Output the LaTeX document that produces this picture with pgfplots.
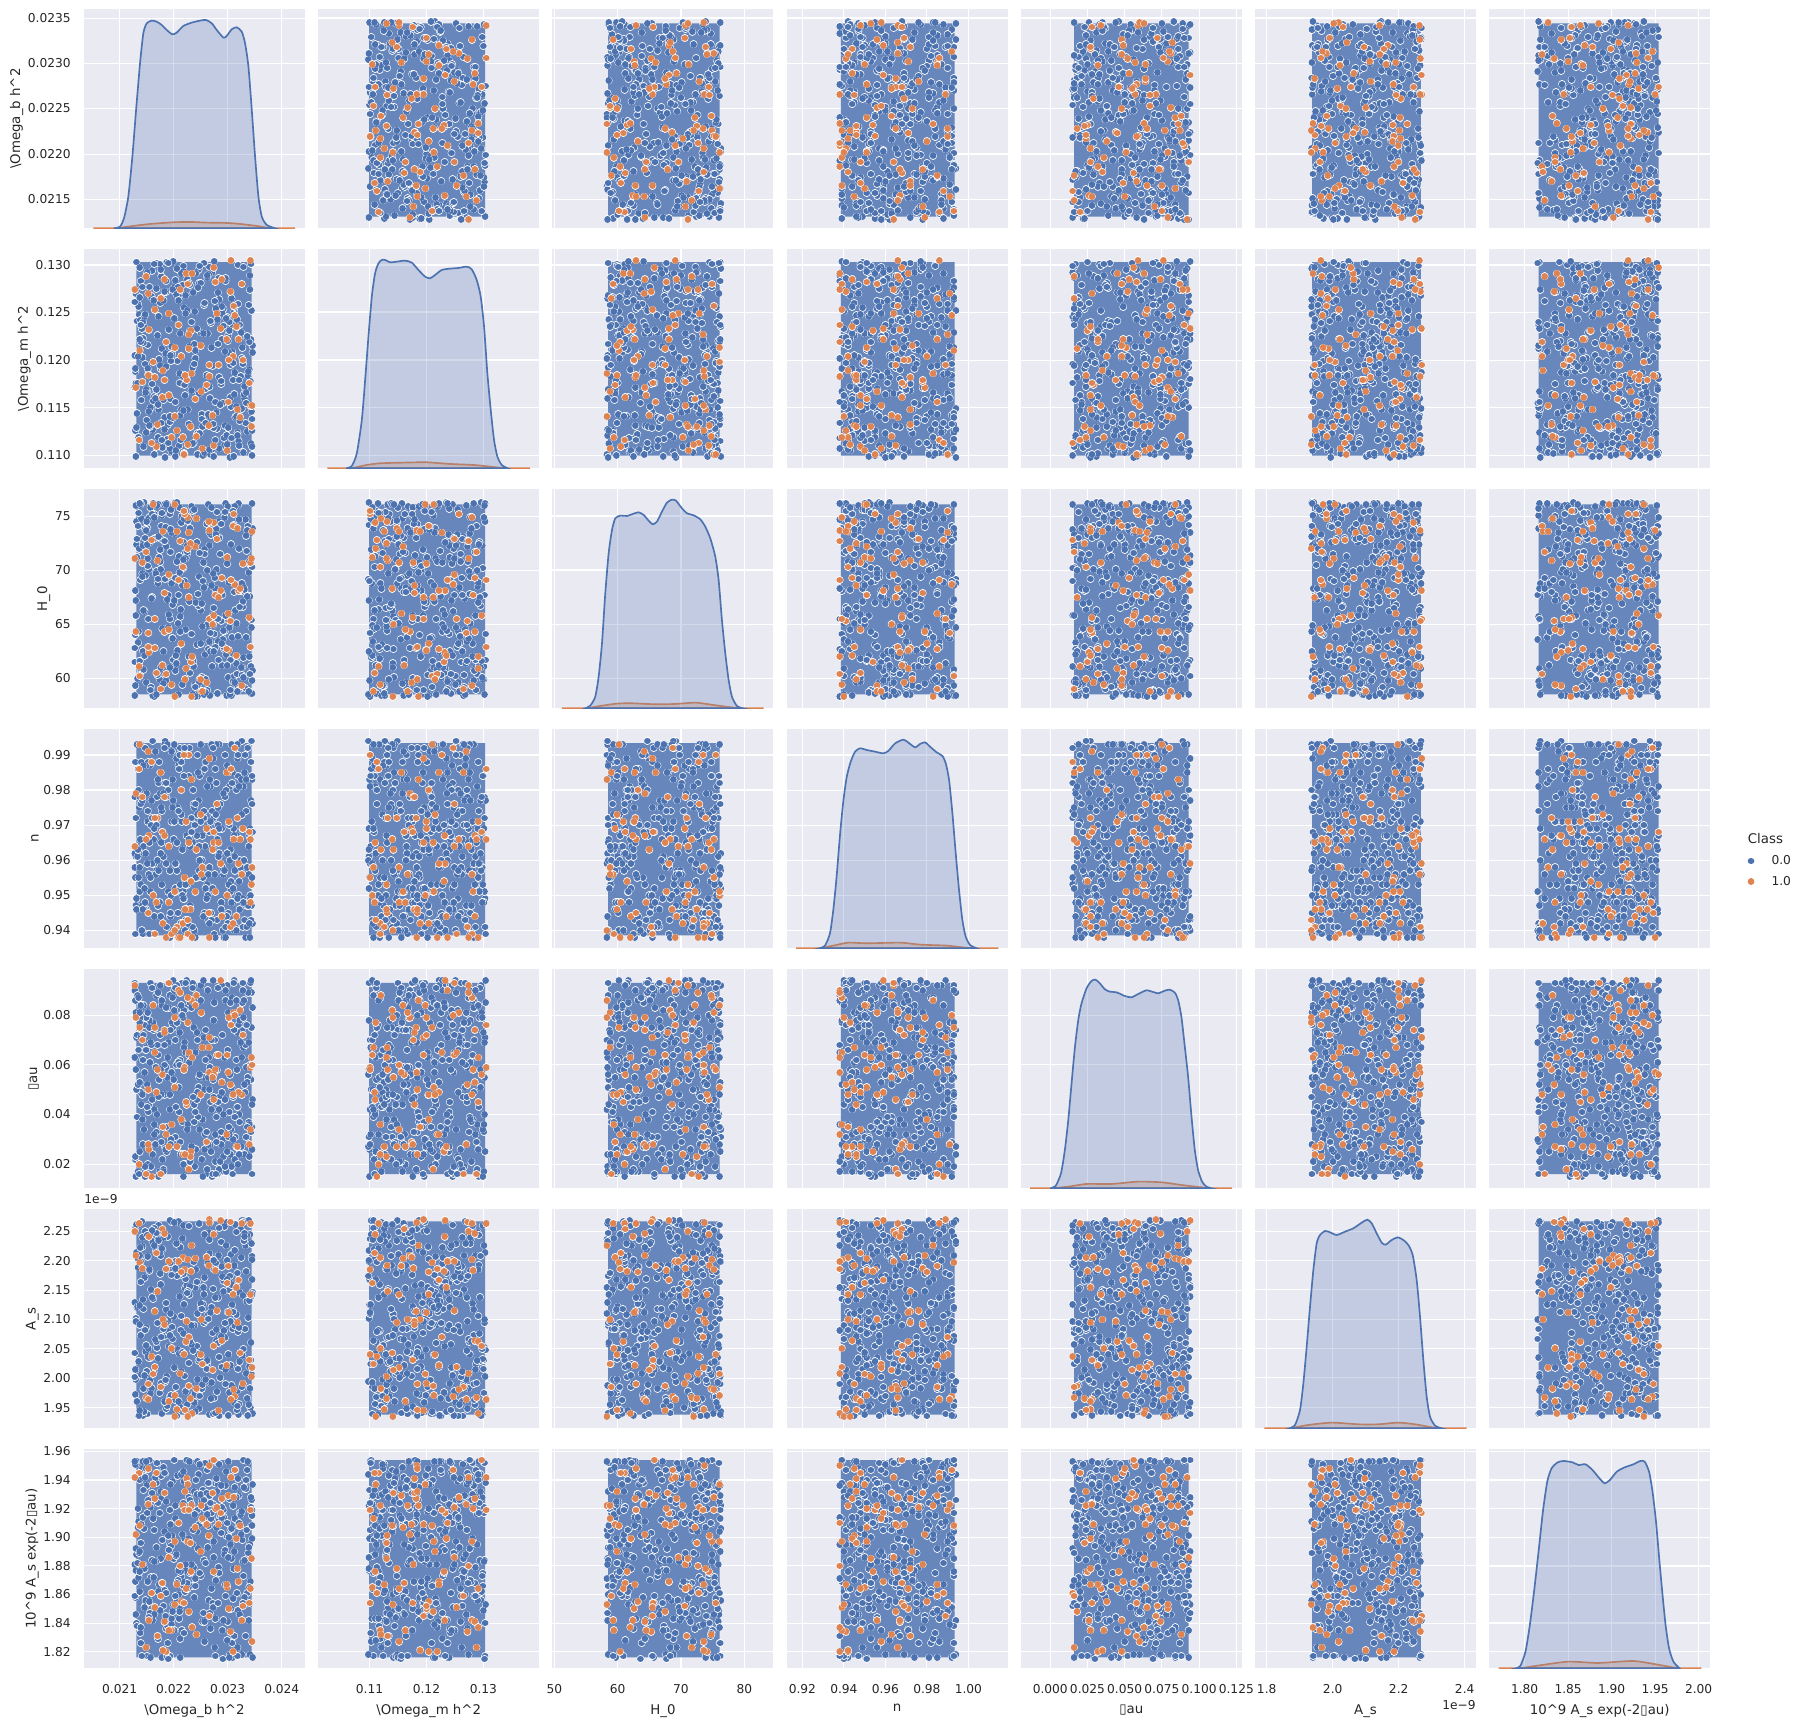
\documentclass[border=0pt]{standalone}
\usepackage{fontspec}
\setmainfont{DejaVu Sans}
\usepackage{pgfplots}
\usepackage{pgfplotstable}
\pgfplotsset{compat=1.18}
\definecolor{bg}{HTML}{EAEAF2}
\definecolor{sb}{HTML}{4C72B0}
\definecolor{so}{HTML}{DD8452}
\definecolor{txt}{HTML}{262626}

% columns in file units: A 1e-5, B 1e-4, C 0.1, D 1e-3, E 1e-3, F 1e-12, G 1e-3
% orange rows read off the A_s and last rows of the reference, matched between panels
\pgfplotstableread{
A B C D E F G
2266 1195 655 989 71 2270 1845
2287 1233 681 959 94 2269 1917
2305 1272 653 941 52 2266 1834
2266 1183 737 938 57 2265 1950
2326 1280 593 956 48 2264 1842
2136 1116 611 986 20 2264 1945
2342 1305 629 966 59 2263 1919
2179 1161 612 968 56 2254 1868
2128 1274 711 964 92 2250 1942
2183 1285 643 967 74 2246 1841
2274 1110 744 965 46 2245 1876
2154 1232 624 967 26 2241 1842
2233 1186 583 983 86 2226 1922
2168 1109 605 948 49 2213 1945
2130 1171 643 979 79 2209 1902
2261 1174 596 969 29 2206 1909
2217 1119 703 942 24 2205 1922
2240 1159 722 951 84 2204 1907
2226 1280 749 939 87 2202 1897
2209 1237 691 938 90 2199 1910
2191 1249 696 964 93 2199 1886
2137 1210 602 993 75 2197 1908
2265 1131 745 945 67 2192 1901
2301 1156 660 985 57 2191 1929
2142 1177 707 978 70 2187 1881
2186 1219 604 938 32 2186 1820
2220 1101 752 955 59 2185 1919
2277 1282 677 951 58 2184 1920
2232 1231 615 954 25 2182 1876
2214 1204 632 980 38 2181 1855
2320 1222 681 959 49 2167 1869
2299 1105 712 950 64 2162 1865
2316 1235 621 944 27 2155 1899
2170 1132 709 972 58 2148 1831
2310 1204 741 942 48 2143 1820
2342 1152 707 948 34 2142 1864
2280 1249 729 976 64 2115 1921
2165 1182 628 972 75 2114 1927
2302 1200 626 971 79 2112 1850
2180 1189 736 942 35 2100 1821
2251 1167 588 956 81 2100 1922
2224 1179 686 946 44 2097 1941
2318 1148 739 972 27 2095 1878
2183 1179 679 978 73 2091 1931
2228 1227 735 990 65 2070 1919
2289 1285 693 944 53 2064 1927
2223 1291 609 971 45 2062 1864
2274 1297 658 968 56 2055 1954
2196 1119 594 939 36 2051 1835
2323 1140 683 966 82 2043 1908
2219 1101 755 990 58 2041 1854
2159 1113 728 988 15 2037 1861
2340 1176 656 968 28 2031 1854
2253 1107 588 958 67 2024 1913
2298 1222 627 985 32 2022 1867
2165 1253 655 939 65 2019 1851
2345 1152 736 958 60 2018 1827
2272 1142 650 963 55 2014 1931
2212 1274 727 938 89 2008 1880
2162 1198 761 950 84 2007 1937
2344 1130 711 953 63 2003 1885
2328 1200 706 969 72 1991 1852
2153 1184 629 945 50 1990 1948
2228 1212 675 965 18 1987 1848
2176 1265 590 985 16 1985 1859
2242 1120 748 963 88 1982 1832
2311 1257 752 966 81 1981 1928
2202 1213 761 951 51 1971 1897
2313 1247 687 992 80 1969 1947
2149 1288 717 966 16 1967 1823
2231 1130 725 946 23 1965 1896
2153 1270 642 991 28 1964 1923
2306 1305 691 986 76 1964 1942
2191 1163 645 948 27 1961 1835
2206 1126 736 941 27 1947 1867
2221 1184 599 946 24 1946 1932
2283 1195 675 965 64 1945 1909
2234 1291 620 938 63 1940 1837
2202 1141 583 940 79 1935 1853
2226 1111 720 943 77 1935 1937
2250 1215 599 973 48 2040 1890
}\orange

% blue cloud: far too dense to read one by one, so positions are estimates that fill
% the same ranges; the paler rectangle in each panel stands for the covered middle
\pgfplotstableread{
A B C D E F G
2130 1099 672 961 58 2102 1877
2343 1301 611 977 33 2031 1921
2131 1303 745 949 71 2214 1840
2345 1100 598 983 26 2168 1899
2129 1188 640 955 86 1972 1858
2238 1217 585 940 44 2090 1932
2189 1132 761 993 63 2241 1826
2307 1265 584 993 19 1988 1885
2162 1157 762 939 77 2135 1913
2281 1243 586 966 16 2058 1952
2342 1178 705 950 93 1950 1869
2134 1259 633 986 17 2189 1907
2196 1104 688 971 93 2266 1843
2266 1298 723 958 16 1938 1928
2212 1142 657 992 29 2264 1816
2301 1226 601 945 81 1937 1953
2151 1167 739 939 52 1939 1817
2329 1103 619 981 67 2268 1954
2247 1281 694 957 38 2263 1952
2178 1212 751 974 84 1940 1816
2132 1241 712 963 39 2121 1953
2344 1146 654 947 75 2007 1817
2129 1126 593 988 22 2255 1951
2341 1274 676 969 60 1983 1818
2346 1215 739 942 46 2147 1816
2128 1171 628 978 90 2043 1953
2256 1302 585 972 55 2094 1884
2203 1099 763 952 31 2199 1922
2319 1300 760 984 73 2016 1849
2164 1101 583 959 42 2237 1905
2275 1304 641 939 85 1967 1938
2221 1163 716 940 20 2153 1862
2139 1283 608 993 49 2073 1896
2333 1134 747 938 68 2226 1831
2184 1098 692 994 27 1994 1944
2250 1229 663 993 92 2118 1873
2293 1118 627 938 17 2081 1914
2147 1196 738 992 15 2250 1852
2312 1251 602 940 94 1959 1890
2215 1175 750 971 93 2176 1835
2262 1287 589 953 16 2024 1947
2128 1205 584 962 63 2129 1881
2345 1138 762 976 35 2208 1919
2130 1270 760 947 81 1998 1846
2343 1112 586 988 54 2061 1908
2235 1192 585 965 93 1941 1866
2172 1246 761 982 15 2261 1925
2298 1121 584 944 17 2265 1901
2206 1296 763 957 92 1936 1856
2326 1149 688 994 74 2268 1818
2143 1223 625 939 28 1937 1953
2284 1264 731 993 47 1936 1951
2193 1107 655 938 88 2269 1817
2224 1180 714 967 94 2158 1954
2309 1237 597 985 16 2084 1816
2157 1150 758 951 93 2035 1816
2271 1292 611 974 15 2193 1953
2339 1187 698 956 37 2269 1842
2135 1256 643 980 66 1936 1911
2131 1129 724 946 50 2262 1888
2346 1208 607 968 83 1940 1937
2244 1101 583 990 70 2110 1953
2187 1303 762 941 25 2003 1817
2304 1098 585 960 56 2174 1818
2169 1302 760 978 40 2052 1952
2229 1214 671 992 61 2142 1953
2291 1155 636 940 30 2067 1815
2155 1277 749 939 78 2183 1954
2318 1124 593 993 43 1979 1817
2129 1191 681 939 23 2015 1869
2344 1252 647 994 89 2229 1926
2132 1144 729 993 72 1961 1838
2341 1289 604 938 36 2245 1895
2254 1100 690 955 15 2126 1933
2199 1304 617 977 94 2048 1853
2311 1099 742 969 93 2217 1878
2174 1301 599 948 17 1975 1917
2267 1160 584 983 59 2264 1847
2145 1235 763 962 34 1943 1906
2320 1115 762 950 76 1938 1929
2209 1268 585 987 51 2267 1860
2130 1176 658 972 15 2097 1892
2343 1222 735 943 94 2139 1928
2128 1261 615 958 93 2002 1859
2345 1109 703 984 16 2202 1915
2240 1202 583 938 65 2155 1871
2183 1140 761 993 48 2072 1904
2296 1283 762 938 86 1990 1936
2161 1127 584 994 24 2233 1842
2328 1197 666 941 93 2266 1883
2136 1248 720 975 16 1937 1889
2273 1105 649 989 94 1939 1923
2218 1299 702 953 15 2260 1866
2149 1169 596 946 79 2086 1953
2303 1240 757 981 41 2163 1816
2258 1102 622 964 32 2024 1952
2190 1302 677 951 69 2100 1815
2337 1184 741 992 55 1937 1953
2141 1233 609 940 84 2267 1817
2277 1156 683 938 21 1941 1817
2201 1276 734 993 90 2265 1954
2200 1200 670 966 54 2105 1885
2243 1122 631 955 46 2055 1930
2175 1260 708 979 72 2178 1864
2288 1175 653 948 28 2232 1903
2156 1130 726 987 61 1996 1847
2322 1237 590 960 37 2146 1917
2214 1148 744 973 80 2011 1873
2137 1211 616 951 25 2091 1940
2265 1290 685 969 63 2248 1856
2193 1135 752 944 42 1969 1895
2308 1209 638 982 87 2125 1826
2168 1275 699 957 33 2062 1938
2237 1113 611 976 75 2198 1879
2284 1182 730 962 18 2036 1912
2146 1247 662 946 57 2171 1851
2332 1165 591 990 49 2084 1934
2225 1285 717 953 83 1955 1868
2179 1108 646 968 22 2219 1898
2300 1220 759 942 66 2113 1841
2252 1143 601 985 38 1982 1925
2160 1294 675 959 91 2138 1884
2336 1125 737 947 53 2243 1861
2207 1199 626 975 27 2049 1943
2276 1262 693 956 70 2190 1823
2140 1158 748 988 44 2006 1909
2230 1231 605 964 85 2156 1875
2314 1140 663 941 31 2262 1947
2186 1272 722 978 59 1948 1836
2259 1170 587 952 74 2098 1920
2152 1216 711 971 20 2207 1857
2295 1131 644 990 46 2069 1891
2219 1255 756 949 82 2181 1939
2340 1190 620 967 36 2020 1865
2171 1119 688 983 64 2236 1829
2269 1239 733 945 25 1965 1913
2133 1176 600 961 88 2122 1882
2246 1295 667 977 51 2030 1944
2306 1151 724 954 34 2211 1850
2197 1206 637 991 77 2087 1901
2280 1128 754 943 58 1977 1932
2158 1266 592 970 19 2151 1872
2324 1183 681 958 69 2254 1916
2210 1110 713 986 41 2042 1843
2263 1228 650 950 90 2195 1893
2177 1288 741 965 29 1992 1927
2316 1141 614 980 62 2108 1860
2142 1203 697 947 48 2224 1948
2233 1168 759 972 83 2058 1881
2292 1254 629 956 23 2166 1919
2188 1117 673 993 55 1953 1838
2335 1224 718 941 76 2131 1905
2216 1279 594 963 37 2238 1869
2150 1137 745 979 67 2012 1936
2272 1194 658 952 16 2077 1854
2299 1245 706 987 92 2201 1910
2204 1105 621 959 43 1985 1887
2256 1258 684 974 71 2143 1926
2164 1162 752 944 32 2256 1846
2327 1213 610 969 85 2039 1898
2241 1291 670 955 26 2185 1940
2183 1127 727 982 60 1960 1863
2310 1179 597 948 47 2115 1922
2138 1242 691 966 79 2222 1833
2279 1107 739 993 39 2064 1907
2222 1268 645 943 93 2169 1877
2286 1153 715 976 21 2001 1915
2170 1226 603 960 68 2094 1945
2331 1160 680 985 52 2247 1858
2195 1199 756 950 30 1971 1894
2250 1281 632 971 86 2127 1930
2154 1146 701 956 44 2035 1844
2318 1235 588 989 73 2179 1911
2213 1116 664 942 24 2082 1876
2266 1172 735 968 56 2212 1938
2137 1297 616 978 81 1945 1862
2302 1208 689 953 35 2150 1900
2228 1133 748 984 65 2026 1928
2181 1263 625 961 18 2240 1852
2338 1188 707 947 89 2103 1889
2244 1123 593 973 49 1998 1919
2290 1249 677 958 72 2173 1835
2166 1160 730 991 28 2066 1942
2208 1277 651 945 61 2229 1870
2321 1110 720 981 40 1956 1908
2144 1218 608 964 84 2118 1881
2261 1184 743 949 33 2016 1931
2198 1139 668 975 75 2192 1848
2313 1256 596 957 22 2089 1913
2173 1201 712 988 54 2251 1867
2235 1112 755 941 91 1968 1895
2282 1271 634 970 45 2137 1937
2148 1166 695 962 66 2045 1856
2325 1229 610 983 27 2205 1902
2218 1293 726 951 79 2076 1924
2253 1130 648 967 38 1989 1841
2176 1191 701 944 57 2160 1885
2297 1244 622 980 17 2226 1946
2135 1119 753 955 87 2029 1872
2270 1213 686 993 42 2121 1917
2203 1284 607 959 70 1963 1859
2334 1155 732 974 31 2182 1934
2191 1232 659 948 83 2054 1891
2257 1103 719 986 50 2245 1827
2305 1195 589 963 24 2097 1905
2159 1267 674 977 68 1983 1929
2226 1148 746 942 36 2148 1864
2289 1222 612 969 92 2019 1921
2167 1170 697 956 59 2216 1883
2319 1259 639 990 20 2079 1941
2211 1176 758 952 73 1952 1850
2274 1129 665 972 47 2186 1897
2143 1240 723 946 62 2134 1914
2248 1299 599 984 34 2033 1875
2330 1164 684 960 86 2234 1935
2185 1207 740 979 26 1997 1845
2264 1142 627 943 55 2109 1908
2206 1273 708 965 77 2174 1868
2153 1185 655 988 41 2051 1926
2294 1110 749 957 63 2258 1888
2239 1251 594 970 19 1974 1916
2328 1196 671 949 90 2141 1854
2177 1134 729 975 48 2070 1943
2283 1286 617 961 32 2209 1879
2220 1174 690 992 69 2004 1899
2139 1219 761 953 84 2164 1837
2268 1101 642 981 28 2112 1924
2317 1243 604 967 58 1946 1861
2194 1159 717 944 74 2196 1909
2245 1276 678 985 39 2041 1892
2212 1228 643 953 62 2223 1829
2279 1145 701 982 29 2083 1941
2163 1263 729 966 74 2011 1872
2307 1118 618 948 51 2159 1906
2238 1196 756 975 37 1959 1858
2186 1283 598 959 83 2117 1925
2331 1172 682 943 24 2241 1884
2149 1124 737 987 66 2056 1948
2268 1241 625 971 45 1991 1836
2203 1156 693 951 91 2187 1913
2295 1209 754 978 19 2094 1867
2176 1295 610 962 58 2208 1932
2322 1136 666 946 78 2028 1846
2225 1252 723 990 34 2145 1897
2157 1183 589 955 69 1974 1921
2284 1107 745 969 42 2256 1875
2198 1274 637 983 87 2067 1939
2340 1219 708 942 23 2132 1853
2247 1165 596 964 55 1948 1909
2139 1237 762 976 71 2199 1826
2301 1129 654 950 31 2041 1886
2214 1291 689 988 84 2106 1944
2172 1148 731 957 47 2234 1862
2326 1202 603 973 63 1985 1918
2257 1260 715 945 26 2171 1841
2190 1113 647 980 93 2079 1901
2313 1187 759 961 39 2218 1935
2146 1246 621 952 76 2005 1878
2273 1133 697 992 54 2152 1851
2230 1279 739 947 21 2063 1926
2168 1169 585 970 88 2247 1893
2336 1225 676 958 35 1966 1947
2219 1102 748 984 67 2126 1833
2289 1256 632 944 49 2190 1914
2152 1191 704 974 81 2037 1869
2264 1143 761 956 28 2101 1938
2205 1269 614 989 60 2229 1888
2318 1121 683 949 43 1953 1823
2243 1233 726 967 73 2164 1904
2181 1158 595 979 17 2084 1949
2296 1286 658 941 90 2015 1859
2134 1204 741 963 52 2203 1920
2277 1116 629 986 32 2137 1843
2222 1249 711 953 65 1978 1881
2160 1175 752 972 46 2252 1931
2329 1298 601 948 79 2050 1873
2252 1138 669 960 22 2118 1912
2196 1214 735 991 57 2176 1839
2305 1161 617 951 85 2022 1895
2142 1277 694 977 38 2240 1942
2270 1105 758 943 70 1993 1864
2233 1240 641 968 27 2090 1923
2175 1194 719 985 92 2214 1849
2345 1126 586 955 44 2143 1908
2209 1263 677 974 61 1961 1877
2288 1178 743 946 33 2071 1936
2155 1131 628 965 75 2185 1855
2262 1289 700 981 18 2030 1916
2137 1222 762 958 53 2124 1890
2316 1151 651 940 86 2249 1928
2240 1210 592 976 41 1943 1866
2183 1272 727 992 68 2097 1945
2299 1111 612 962 25 2168 1828
2216 1184 686 950 80 2044 1902
2164 1301 749 969 36 2226 1883
2334 1166 638 983 59 2008 1940
2255 1228 707 944 94 2155 1847
2193 1141 610 957 48 2073 1919
2278 1254 733 973 16 2196 1870
2144 1109 663 987 72 1982 1933
2310 1197 755 952 30 2113 1857
2228 1281 620 966 64 2259 1899
2171 1153 692 947 89 2034 1924
2292 1236 644 979 40 2148 1842
2248 1123 716 960 56 1970 1951
2137 1266 603 993 77 2209 1876
2321 1179 747 954 24 2086 1910
2201 1244 672 971 82 2018 1835
2266 1106 634 942 50 2236 1929
2186 1193 761 982 35 2128 1861
2339 1258 588 964 69 1955 1893
2218 1147 710 949 20 2178 1946
2282 1217 655 975 91 2060 1854
2151 1292 724 959 43 2244 1917
2259 1134 599 988 62 1998 1882
2194 1205 738 945 28 2110 1937
2312 1164 680 967 74 2192 1831
2236 1271 616 980 47 2047 1905
2178 1116 753 953 86 2221 1868
2303 1231 647 970 32 1976 1927
2211 1186 698 990 60 2139 1848
2147 1248 730 948 19 2082 1942
2274 1099 625 963 78 2201 1886
}\blue

% round-cap dots as one literal each: much lighter on TeX memory than mark=*
\makeatletter
\pgfdeclareplotmark{bdot}{\pgfsys@beginscope\pgflowlevelsynccm\pgfsys@invoke{1 J 1 1 1 RG 5.6 w 0 0 m .01 0 l S .298 .447 .69 RG 4.8 w 0 0 m .01 0 l S}\pgfsys@endscope}
\pgfdeclareplotmark{odot}{\pgfsys@beginscope\pgflowlevelsynccm\pgfsys@invoke{1 J 1 1 1 RG 5.6 w 0 0 m .01 0 l S .867 .518 .322 RG 4.8 w 0 0 m .01 0 l S}\pgfsys@endscope}
\makeatother

\pgfplotsset{
  base/.style={
    scale only axis, width=159.12pt, height=157.9pt, anchor=south west,
    axis background/.style={fill=bg},
    axis line style={draw=none}, tick style={draw=none}, major tick length=0pt,
    grid=major, grid style={white, line width=0.8pt},
    tick label style={font=\fontsize{8.8}{10.5}\selectfont, text=txt},
    label style={font=\fontsize{9.6}{11.5}\selectfont, text=txt},
    yticklabel style={inner xsep=9.4pt},
    xticklabel style={inner ysep=11.5pt},
    ylabel style={inner ysep=0pt},
    ylabel shift=-6.2pt,
    xlabel style={inner ysep=0pt},
    xlabel shift=-4pt,
    clip=true,
  },
  xvA/.style={xmin=2034,xmax=2443,xtick={2100,2200,2300,2400},xticklabels={0.021,0.022,0.023,0.024}},
  xvB/.style={xmin=1010,xmax=1398,xtick={1100,1200,1300},xticklabels={0.11,0.12,0.13}},
  xvC/.style={xmin=497,xmax=846,xtick={500,600,700,800},xticklabels={50,60,70,80}},
  xvD/.style={xmin=912.4,xmax=1018.9,xtick={920,940,960,980,1000},xticklabels={0.92,0.94,0.96,0.98,1.00}},
  xvE/.style={xmin=-19.8,xmax=128.7,xtick={0,25,50,75,100,125},xticklabels={0.000,0.025,0.050,0.075,0.100,0.125}},
  xvF/.style={xmin=1764.6,xmax=2434.3,xtick={1800,2000,2200,2400},xticklabels={1.8,2.0,2.2,2.4}},
  xvG/.style={xmin=1759.3,xmax=2013.3,xtick={1800,1850,1900,1950,2000},xticklabels={1.80,1.85,1.90,1.95,2.00}},
  yvA/.style={ymin=2118,ymax=2360,ytick={2150,2200,2250,2300,2350},yticklabels={0.0215,0.0220,0.0225,0.0230,0.0235}},
  yvB/.style={ymin=1086.3,ymax=1316.8,ytick={1100,1150,1200,1250,1300},yticklabels={0.110,0.115,0.120,0.125,0.130}},
  yvC/.style={ymin=572.2,ymax=775.3,ytick={600,650,700,750},yticklabels={60,65,70,75}},
  yvD/.style={ymin=934.9,ymax=997.4,ytick={940,950,960,970,980,990},yticklabels={0.94,0.95,0.96,0.97,0.98,0.99}},
  yvE/.style={ymin=10.3,ymax=98.6,ytick={20,40,60,80},yticklabels={0.02,0.04,0.06,0.08}},
  yvF/.style={ymin=1914.8,ymax=2288.1,ytick={1950,2000,2050,2100,2150,2200,2250},yticklabels={1.95,2.00,2.05,2.10,2.15,2.20,2.25}},
  yvG/.style={ymin=1808.4,ymax=1961.7,ytick={1820,1840,1860,1880,1900,1920,1940,1960},yticklabels={1.82,1.84,1.86,1.88,1.90,1.92,1.94,1.96}},
  dvA/.style={ymin=0,ymax=658,ytick={87,222,360,495,630},yticklabels={0.0215,0.0220,0.0225,0.0230,0.0235}},
  dvB/.style={ymin=0,ymax=658,ytick={39,183,325,469,610},yticklabels={}},
  dvC/.style={ymin=0,ymax=658,ytick={90,252,415,577},yticklabels={}},
  dvD/.style={ymin=0,ymax=658,ytick={54,159,264,369,474,580},yticklabels={}},
  dvE/.style={ymin=0,ymax=658,ytick={72,222,372,519},yticklabels={}},
  dvF/.style={ymin=0,ymax=658,ytick={62,152,240,327,417,504,591},yticklabels={}},
  dvG/.style={ymin=0,ymax=658,ytick={50,136,222,307,393,479,565,651},yticklabels={}},
  ylA/.style={ylabel={\textbackslash Omega\_b h\textasciicircum 2}},
  ylB/.style={ylabel={\textbackslash Omega\_m h\textasciicircum 2}},
  ylC/.style={ylabel={H\_0}},
  ylD/.style={ylabel={n}},
  ylE/.style={ylabel={▯au}},
  ylF/.style={ylabel={A\_s}},
  ylG/.style={ylabel={10\textasciicircum 9 A\_s exp(-2▯au)}},
  xlA/.style={xlabel={\textbackslash Omega\_b h\textasciicircum 2}},
  xlB/.style={xlabel={\textbackslash Omega\_m h\textasciicircum 2}},
  xlC/.style={xlabel={H\_0}},
  xlD/.style={xlabel={n}},
  xlE/.style={xlabel={▯au}},
  xlF/.style={xlabel={A\_s}},
  xlG/.style={xlabel={10\textasciicircum 9 A\_s exp(-2▯au)}},
  hx/.style={xticklabels={}},
  hy/.style={yticklabels={}},
  blue dots/.style={only marks,mark=bdot,forget plot},
  orange dots/.style={only marks,mark=odot,forget plot},
  ofstop/.style={extra description/.code={\node[anchor=south west,inner sep=0pt,font=\fontsize{8.8}{10.5}\selectfont,text=txt] at (axis description cs:0,1.025) {1e−9};}},
  ofsbot/.style={extra description/.code={\node[anchor=north east,inner sep=0pt,font=\fontsize{8.8}{10.5}\selectfont,text=txt] at (axis description cs:1,-0.146) {1e−9};}},
}
% panel column positions and row positions, pt
\def\cxA{60.48pt}\def\cxB{229.10pt}\def\cxC{397.73pt}\def\cxD{566.35pt}\def\cxE{734.98pt}\def\cxF{903.60pt}\def\cxG{1072.22pt}
\def\ryA{1074.74pt}\def\ryB{901.94pt}\def\ryC{729.14pt}\def\ryD{556.34pt}\def\ryE{383.54pt}\def\ryF{210.74pt}\def\ryG{37.94pt}
% inner rectangle of each cloud
\def\loA{2131}\def\hiA{2344}\def\loB{1099.5}\def\hiB{1303}\def\loC{585}\def\hiC{761}
\def\loD{938.6}\def\hiD{993.4}\def\loE{16}\def\hiE{93}\def\loF{1938}\def\hiF{2267}\def\loG{1816}\def\hiG{1954}

\newcommand{\panel}[4][]{%
  \begin{axis}[base,at={(\csname cx#2\endcsname,\csname ry#3\endcsname)},xv#2,yv#3,#4]
    \edef\xa{\csname lo#2\endcsname}\edef\xb{\csname hi#2\endcsname}%
    \edef\ya{\csname lo#3\endcsname}\edef\yb{\csname hi#3\endcsname}%
    \addplot[fill=sb!85!white,draw=none,forget plot] coordinates {(\xa,\ya) (\xb,\ya) (\xb,\yb) (\xa,\yb) (\xa,\ya)};
    \addplot[blue dots] table[x=#2,y=#3]{\blue};
    \addplot[orange dots] table[x=#2,y=#3]{\orange};
    #1
  \end{axis}}
% diagonal: #1 variable, #2 options, #3 orange density, #4 blue density
\newcommand{\diag}[4]{%
  \begin{axis}[base,at={(\csname cx#1\endcsname,\csname ry#1\endcsname)},xv#1,dv#1,#2]
    \addplot[so,fill=so,fill opacity=0.25,line width=1.2pt,smooth,tension=0.4,forget plot] coordinates {#3} \closedcycle;
    \addplot[sb,fill=sb,fill opacity=0.25,line width=1.2pt,smooth,tension=0.4,forget plot] coordinates {#4} \closedcycle;
  \end{axis}}

\begin{document}
\begin{tikzpicture}
\useasboundingbox (0,0) rectangle (1297.44pt,1239.12pt);
% density curves: x in column units, y = height above baseline (658 = panel top)
\diag{A}{hx,ylA}
{(2051.2,0)(2091.4,0)(2125.3,7)(2156.2,13)(2199.4,18)(2230.3,19)(2261.1,17)(2298.1,16)(2322.9,13)(2353.7,7)(2378.4,1)(2424.7,0)}
{(2089.5,0)(2100.6,5)(2108,30)(2116,95)(2123.5,215)(2130.9,365)(2137.7,495)(2143.8,585)(2150,615)(2159.3,623)(2168.5,620)(2177.8,610)(2187,595)(2197.5,582)(2205.6,587)(2217.9,607)(2233.3,617)(2248.8,623)(2259.9,625)(2270.4,615)(2279.6,595)(2292,572)(2298.1,577)(2307.4,597)(2316.7,603)(2325.9,590)(2332.1,555)(2338.3,485)(2344.5,355)(2350.6,215)(2356.8,95)(2363,35)(2372.2,10)(2387.7,0)}
\diag{B}{hx,hy}
{(1026.3,0)(1066.1,0)(1095.3,10)(1118.7,15)(1159.6,17)(1200.6,18)(1241.5,13)(1282.5,10)(1311.7,5)(1340.9,0)(1381.9,0)}
{(1059.1,0)(1069,7)(1077.8,45)(1086.6,145)(1092.4,265)(1098.2,395)(1104.1,515)(1109.9,585)(1115.8,615)(1121.6,625)(1127.5,625)(1136.3,618)(1148,620)(1162.6,623)(1174.3,617)(1186,595)(1197.7,575)(1206.4,570)(1215.2,580)(1226.9,595)(1241.5,599)(1256.1,601)(1270.8,605)(1279.5,597)(1288.3,565)(1295.3,515)(1301.2,425)(1307,285)(1312.9,175)(1318.7,85)(1324.6,35)(1332.2,10)(1342.7,0)}
\diag{C}{hx,hy}
{(512.1,0)(548.9,0)(572.6,7)(598.9,14)(622.6,15)(659.5,12)(691,13)(722.6,17)(743.7,12)(770,5)(796.3,0)(830.5,0)}
{(548.9,0)(556.8,8)(564.7,35)(570,95)(575.3,195)(580.5,345)(585.8,465)(591.1,535)(596.3,570)(604.2,578)(614.7,577)(625.3,584)(633.2,588)(641.1,580)(648.9,563)(655.3,552)(662.1,560)(670,590)(677.9,617)(685.8,626)(692.1,623)(701.6,600)(709.5,585)(720,579)(730.5,567)(738.4,545)(746.3,510)(754.2,455)(759.5,385)(764.7,265)(770,165)(775.3,85)(780.5,35)(788.4,7)(797.9,0)}
\diag{D}{hx,hy}
{(917,0)(927.7,0)(934.9,8)(942.2,17)(951,15)(967.1,17)(976.7,11)(989.6,8)(998.4,2)(1004,0)(1014.5,0)}
{(928.2,0)(930.9,8)(933.3,45)(934.9,115)(936.5,215)(938.2,345)(939.8,445)(941.4,515)(943.3,560)(945.4,590)(947.8,600)(951,595)(955,590)(958.9,585)(961.4,592)(964.7,615)(968.7,626)(971.1,617)(974.3,603)(976.7,613)(979.1,618)(981.5,605)(984.7,588)(987.5,577)(989.1,555)(990.7,505)(992.3,405)(993.9,285)(995.5,175)(997.1,85)(998.7,35)(1000.8,10)(1004,0)}
\diag{E}{hx,hy}
{(-13.6,0)(-0.2,0)(12.1,5)(24.4,13)(41.2,13)(59.1,20)(74.7,18)(88.1,10)(99.3,4)(108.3,0)(122.1,0)}
{(0,0)(3.6,7)(7.2,45)(9.8,115)(12.1,205)(14.3,315)(16.6,425)(18.8,505)(21,555)(24.4,600)(27.7,622)(30.4,626)(33.3,615)(36.7,597)(40,590)(44.5,588)(50.1,577)(54.6,573)(59.1,583)(64.6,594)(69.1,589)(72.5,585)(77,593)(80.3,596)(83.7,587)(85.9,565)(88.1,515)(90.4,425)(92.6,335)(94.9,215)(97.1,115)(99.3,55)(102,20)(104.9,5)(108.3,0)}
\diag{F}{hx,hy}
{(1792.9,0)(1865.7,0)(1926.3,10)(1997,17)(2077.8,12)(2138.4,12)(2199,17)(2249.5,12)(2300,3)(2330.3,0)(2406.1,0)}
{(1868.7,0)(1885.9,10)(1901,55)(1911.1,135)(1921.2,245)(1931.3,365)(1941.4,475)(1951.5,555)(1961.6,580)(1976.8,592)(1991.9,588)(2012.1,580)(2037.4,590)(2062.6,600)(2087.9,617)(2105,626)(2118.2,615)(2133.3,585)(2148.5,557)(2160.6,551)(2178.8,565)(2197,573)(2214.1,565)(2229.3,550)(2242.4,520)(2254.5,445)(2264.6,335)(2274.7,205)(2284.8,95)(2294.9,35)(2310.1,8)(2330.3,0)}
\diag{G}{hy,xlG}
{(1770,0)(1793,0)(1815,8)(1850,20)(1885,16)(1925,22)(1955,10)(1978,0)(2003,0)}
{(1790,0)(1795,7)(1801,50)(1806,130)(1811,234)(1816,350)(1821,470)(1826,560)(1831,600)(1838,618)(1845,622)(1855,618)(1862,610)(1870,612)(1878,595)(1886,570)(1892,555)(1898,565)(1906,590)(1915,603)(1925,612)(1933,622)(1938,620)(1943,590)(1947,530)(1951,440)(1955,320)(1958,234)(1962,130)(1966,60)(1971,20)(1978,0)}
% scatter panels
\panel{B}{A}{hx,hy}\panel{C}{A}{hx,hy}\panel{D}{A}{hx,hy}\panel{E}{A}{hx,hy}\panel{F}{A}{hx,hy}\panel{G}{A}{hx,hy}
\panel{A}{B}{hx,ylB}\panel{C}{B}{hx,hy}\panel{D}{B}{hx,hy}\panel{E}{B}{hx,hy}\panel{F}{B}{hx,hy}\panel{G}{B}{hx,hy}
\panel{A}{C}{hx,ylC}\panel{B}{C}{hx,hy}\panel{D}{C}{hx,hy}\panel{E}{C}{hx,hy}\panel{F}{C}{hx,hy}\panel{G}{C}{hx,hy}
\panel{A}{D}{hx,ylD}\panel{B}{D}{hx,hy}\panel{C}{D}{hx,hy}\panel{E}{D}{hx,hy}\panel{F}{D}{hx,hy}
\panel[
  \addlegendimage{empty legend}\addlegendentry{\hspace*{4.3pt}\fontsize{9.6}{11.5}\selectfont Class}
  \addlegendimage{only marks,mark=bdot}\addlegendentry{\hspace*{21.3pt}0.0}
  \addlegendimage{only marks,mark=odot}\addlegendentry{\hspace*{21.3pt}1.0}
]{G}{D}{hx,hy,legend cell align=left,legend style={at={(1.111,0.4)},anchor=west,draw=none,fill=none,font=\fontsize{8.8}{10.5}\selectfont,text=txt,row sep=2.8pt}}
\panel{A}{E}{hx,ylE}\panel{B}{E}{hx,hy}\panel{C}{E}{hx,hy}\panel{D}{E}{hx,hy}\panel{F}{E}{hx,hy}\panel{G}{E}{hx,hy}
\panel{A}{F}{hx,ylF,ofstop}
\panel{B}{F}{hx,hy}\panel{C}{F}{hx,hy}\panel{D}{F}{hx,hy}\panel{E}{F}{hx,hy}\panel{G}{F}{hx,hy}
\panel{A}{G}{ylG,xlA}\panel{B}{G}{hy,xlB}\panel{C}{G}{hy,xlC}\panel{D}{G}{hy,xlD}\panel{E}{G}{hy,xlE}
\panel{F}{G}{hy,xlF,ofsbot}
\end{tikzpicture}
\end{document}
